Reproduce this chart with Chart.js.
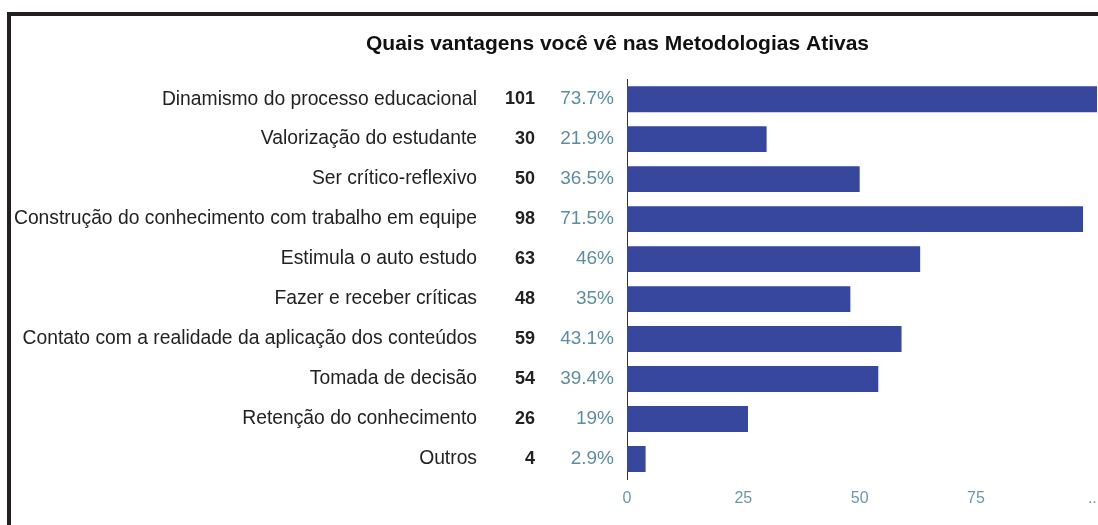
<!DOCTYPE html>
<html>
<head>
<meta charset="utf-8">
<script src="https://cdn.jsdelivr.net/npm/chart.js@4"></script>
<style>
    body { margin: 0; background: #fff; overflow: hidden; }
    #wrap { position: relative; width: 1098px; height: 525px; }
    #frame {
        position: absolute; left: 7px; top: 12px; width: 1200px; height: 600px;
        border-left: 4px solid #231f20; border-top: 4px solid #231f20;
        pointer-events: none;
    }
</style>
</head>
<body>
<div id="wrap">
    <canvas id="advChart"></canvas>
    <div id="frame"></div>
</div>
<script>
// Survey answers
const categories = [
    'Dinamismo do processo educacional',
    'Valorização do estudante',
    'Ser crítico-reflexivo',
    'Construção do conhecimento com trabalho em equipe',
    'Estimula o auto estudo',
    'Fazer e receber críticas',
    'Contato com a realidade da aplicação dos conteúdos',
    'Tomada de decisão',
    'Retenção do conhecimento',
    'Outros'
];
const counts = [101, 30, 50, 98, 63, 48, 59, 54, 26, 4];
const percents = ['73.7%', '21.9%', '36.5%', '71.5%', '46%', '35%', '43.1%', '39.4%', '19%', '2.9%'];
const xTicks = [0, 25, 50, 75, 100];

const labelFont = "'Liberation Sans', Arial, sans-serif";

// category name, count and percent columns left of each bar
const columnsPlugin = {
    id: 'columns',
    afterDraw(chart) {
        const ctx = chart.ctx;
        const y = chart.scales.y;
        const left = chart.chartArea.left;
        ctx.save();
        ctx.textAlign = 'right';
        ctx.textBaseline = 'middle';
        categories.forEach((c, i) => {
            const py = y.getPixelForValue(i);
            ctx.font = '19.3px ' + labelFont;
            ctx.fillStyle = '#222';
            ctx.fillText(c, left - 150, py);
            ctx.font = 'bold 18px ' + labelFont;
            ctx.fillText(String(counts[i]), left - 92, py);
            ctx.font = '19px ' + labelFont;
            ctx.fillStyle = '#5b8ea3';
            ctx.fillText(percents[i], left - 13, py);
        });
        ctx.restore();
    }
};

document.addEventListener('DOMContentLoaded', () => {
    const ctx = document.getElementById('advChart').getContext('2d');
    new Chart(ctx, {
        type: 'bar',
        data: {
            labels: categories,
            datasets: [{
                data: counts,
                backgroundColor: '#37479d',
                borderWidth: 0,
                barPercentage: 0.72,
                categoryPercentage: 0.9
            }]
        },
        options: {
            indexAxis: 'y',
            responsive: true,
            maintainAspectRatio: false,
            animation: false,
            layout: {
                padding: { left: 138, right: 1, top: 0, bottom: 0 }
            },
            scales: {
                x: {
                    min: 0,
                    max: Math.max(...counts),
                    afterBuildTicks: (s) => { s.ticks = xTicks.map(v => ({ value: v })); },
                    afterFit: (s) => { s.height = 46; s.paddingLeft = 0; s.paddingRight = 0; },
                    grid: { display: false, drawTicks: false },
                    border: { display: false },
                    ticks: {
                        padding: 10,
                        color: '#6a98aa',
                        font: { family: labelFont, size: 16 },
                        callback: (v) => v > 75 ? '..' : v
                    }
                },
                y: {
                    afterFit: (s) => { s.width = 489; s.paddingTop = 0; s.paddingBottom = 0; },
                    grid: { display: false, drawTicks: false },
                    border: { display: true, color: '#333', width: 1 },
                    ticks: { display: false }
                }
            },
            plugins: {
                legend: { display: false },
                tooltip: { enabled: false },
                title: {
                    display: true,
                    text: 'Quais vantagens você vê nas Metodologias Ativas',
                    color: '#111',
                    font: { family: labelFont, size: 21, weight: 'bold' },
                    padding: { top: 32, bottom: 22 }
                }
            }
        },
        plugins: [columnsPlugin]
    });
});
</script>
</body>
</html>
